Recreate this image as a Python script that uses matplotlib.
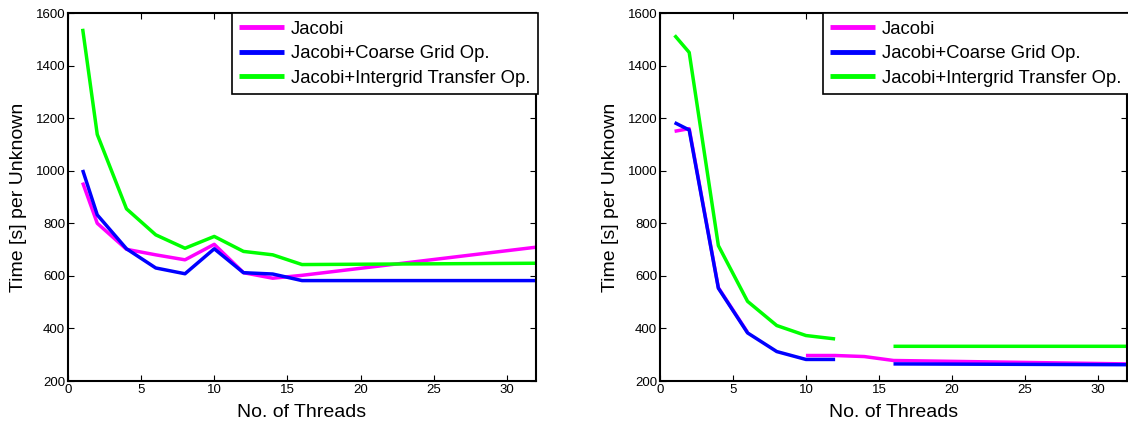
import numpy as np
import matplotlib
matplotlib.use("Agg")
import matplotlib.pyplot as plt

plt.rcParams['font.family'] = ['Liberation Sans', 'DejaVu Sans']

threads = [1, 2, 4, 6, 8, 10, 12, 14, 16, 32]
series_names = ["Jacobi", "Jacobi+Coarse Grid Op.", "Jacobi+Intergrid Transfer Op."]
colors = ["#ff00ff", "#0000ff", "#00ff00"]

# Left panel
left_jacobi = [955, 800, 701, 680, 661, 720, 612, 591, 602, 709]
left_coarse = [1003, 832, 703, 630, 608, 703, 612, 607, 582, 582]
left_inter = [1540, 1138, 855, 756, 705, 750, 693, 680, 643, 648]

# Right panel (NaN = gap)
nan = np.nan
right_jacobi = [1150, 1160, 555, 385, nan, 297, 297, 293, 278, 265]
right_coarse = [1183, 1155, 553, 383, 312, 282, 282, nan, 265, 262]
right_inter = [1515, 1450, 715, 503, 411, 373, 360, nan, 332, 332]

xticks = [0, 5, 10, 15, 20, 25, 30]
yticks = [200, 400, 600, 800, 1000, 1200, 1400, 1600]

fig = plt.figure(figsize=(11.28, 4.24), dpi=100)
ax1 = fig.add_axes([68/1128, 43/424, 468/1128, 368/424])
ax2 = fig.add_axes([660/1128, 43/424, 467/1128, 368/424])

for ax, data in [(ax1, [left_jacobi, left_coarse, left_inter]),
                 (ax2, [right_jacobi, right_coarse, right_inter])]:
    for name, c, vals in zip(series_names, colors, data):
        ax.plot(threads, np.array(vals, dtype=float), color=c, lw=2.5,
                label=name, solid_capstyle='butt')
    ax.set_xlim(0, 32)
    ax.set_ylim(200, 1600)
    ax.set_xticks(xticks)
    ax.set_yticks(yticks)
    ax.tick_params(direction='in', top=True, right=True, length=4,
                   width=0.8, labelsize=9.5, pad=2)
    for s in ax.spines.values():
        s.set_linewidth(1.5)
    ax.set_xlabel("No. of Threads", fontsize=14, labelpad=6)
    ax.set_ylabel("Time [s] per Unknown", fontsize=14, labelpad=6)
    leg = ax.legend(loc='upper right', bbox_to_anchor=(1.005, 1.0),
                    borderaxespad=0, fontsize=13.3, fancybox=False,
                    framealpha=1, edgecolor='black', handlelength=2.4,
                    handletextpad=0.4, labelspacing=0.4, borderpad=0.42)
    leg.get_frame().set_linewidth(1.2)
    for l in leg.get_lines():
        l.set_linewidth(3.5)

fig.savefig("out.png", dpi=100)
